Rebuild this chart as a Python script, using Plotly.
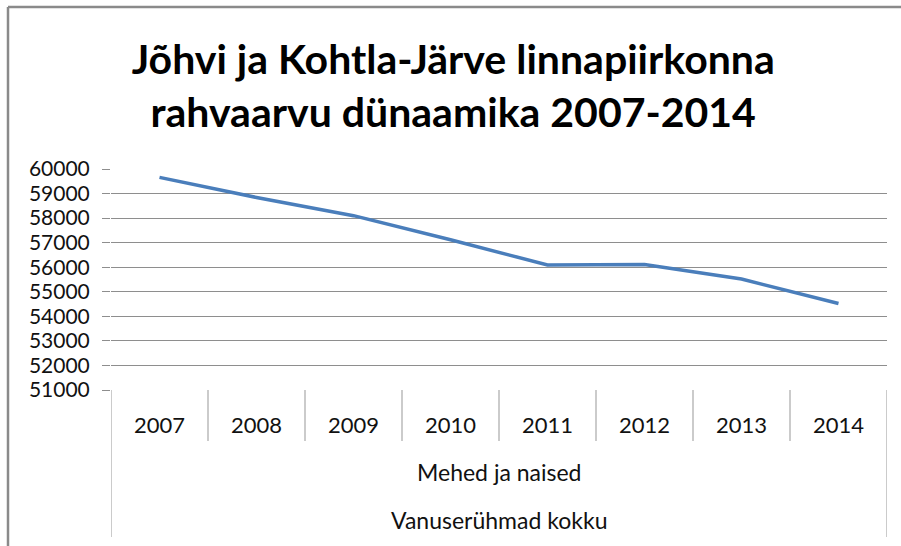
import plotly.graph_objects as go

years = ["2007", "2008", "2009", "2010", "2011", "2012", "2013", "2014"]
population = [59660, 58840, 58100, 57120, 56090, 56110, 55520, 54520]
y_ticks = [51000, 52000, 53000, 54000, 55000, 56000, 57000, 58000, 59000, 60000]
level2_label = "Mehed ja naised"
level3_label = "Vanuserühmad kokku"
title_text = "Jõhvi ja Kohtla-Järve linnapiirkonna<br>rahvaarvu dünaamika 2007-2014"

FONT = "Lato, 'Open Sans', sans-serif"
GRID = "#8e8e8e"
SEP = "#a8a8a8"

xs = list(range(len(years)))

fig = go.Figure()
fig.add_trace(go.Scatter(
    x=xs, y=population, mode="lines",
    line=dict(color="#4a7ebb", width=3.5),
    hoverinfo="x+y", showlegend=False,
))

shapes = []
# year separators (first row)
for i in range(len(years) - 1):
    shapes.append(dict(type="line", xref="x", yref="paper", ysizemode="pixel", yanchor=0,
                       x0=i + 0.5, x1=i + 0.5, y0=0, y1=-51,
                       line=dict(color=SEP, width=1.2)))
# outer vertical boundaries of the category table
for xv in (-0.5, len(years) - 0.5):
    shapes.append(dict(type="line", xref="x", yref="paper", ysizemode="pixel", yanchor=0,
                       x0=xv, x1=xv, y0=0, y1=-147,
                       line=dict(color=SEP, width=1.2)))
# chart border (top and left)
shapes.append(dict(type="line", xref="paper", yref="paper", xsizemode="pixel", xanchor=0,
                   ysizemode="pixel", yanchor=1, x0=-103, x1=800, y0=162, y1=162,
                   line=dict(color="#8a8a8a", width=2.5)))
shapes.append(dict(type="line", xref="paper", yref="paper", xsizemode="pixel", xanchor=0,
                   ysizemode="pixel", yanchor=1, x0=-103, x1=-103, y0=162, y1=-400,
                   line=dict(color="#8a8a8a", width=2.5)))

annotations = []
for i, yr in enumerate(years):
    annotations.append(dict(x=i, y=0, xref="x", yref="paper", yshift=-34,
                            text=yr, showarrow=False, yanchor="middle",
                            font=dict(family=FONT, size=22, color="#111")))
annotations.append(dict(x=(len(years) - 1) / 2, y=0, xref="x", yref="paper", yshift=-82,
                        text=level2_label, showarrow=False, yanchor="middle",
                        font=dict(family=FONT, size=23, color="#111")))
annotations.append(dict(x=(len(years) - 1) / 2, y=0, xref="x", yref="paper", yshift=-130,
                        text=level3_label, showarrow=False, yanchor="middle",
                        font=dict(family=FONT, size=23, color="#111")))

fig.update_layout(
    width=901, height=546,
    margin=dict(l=111, r=14, t=169, b=156),
    paper_bgcolor="white", plot_bgcolor="white",
    title=dict(text=title_text, x=0.503, xanchor="center", yref="container",
               y=1 - 74 / 546, yanchor="middle",
               font=dict(family=FONT, size=41, color="#000", weight="bold")),
    xaxis=dict(range=[-0.5, len(years) - 0.5], showticklabels=False, showgrid=False,
               zeroline=False, showline=False, ticks=""),
    yaxis=dict(range=[51000, 60000], tickvals=y_ticks, ticktext=[str(v) for v in y_ticks],
               showgrid=True, gridcolor=GRID, gridwidth=1.3, zeroline=False,
               showline=False, ticks="outside", ticklen=8, tickcolor=GRID, tickwidth=1.3,
               ticklabelstandoff=8,
               tickfont=dict(family=FONT, size=21, color="#111")),
    shapes=shapes, annotations=annotations,
)

fig.write_html("out.html", config={"displayModeBar": False},
               post_script="document.body.style.margin='0';")
